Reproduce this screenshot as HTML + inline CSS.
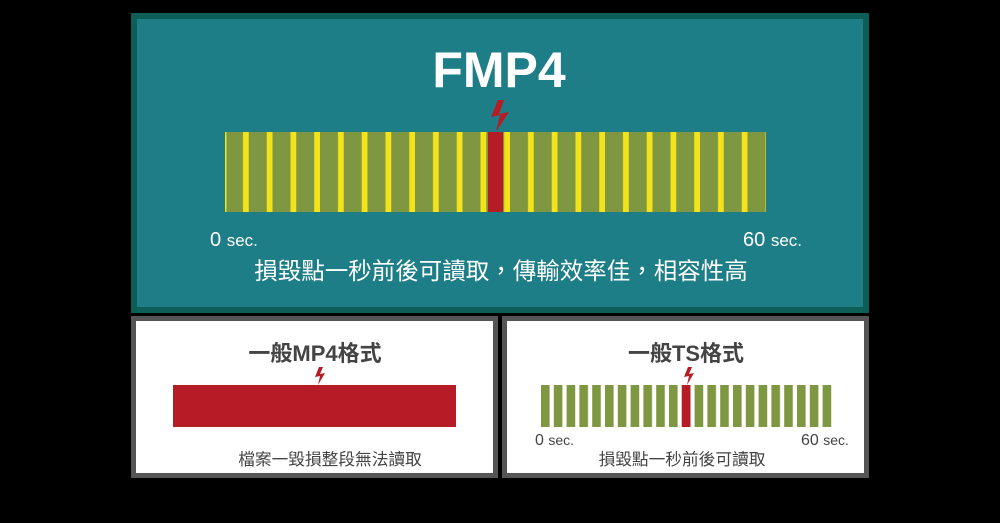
<!DOCTYPE html>
<html><head><meta charset="utf-8"><style>
body{margin:0;background:#000;width:1000px;height:523px;overflow:hidden;font-family:"Liberation Sans","Noto Sans CJK TC",sans-serif}
</style></head><body>
<svg width="1000" height="523" xmlns="http://www.w3.org/2000/svg" style="position:absolute;left:0;top:0">
<defs>
<pattern id="yp" x="225" y="0" width="23.75" height="100" patternUnits="userSpaceOnUse">
<rect x="0" y="0" width="23.75" height="100" fill="#7f9740"/>
<rect x="18" y="0" width="8" height="100" fill="#f2e31b"/>
</pattern>
<pattern id="gp" x="541" y="0" width="12.8" height="100" patternUnits="userSpaceOnUse">
<rect x="0" y="0" width="8.6" height="100" fill="#7f9740"/>
</pattern>
</defs>
<rect width="1000" height="523" fill="#000"/>
<rect x="131" y="13" width="738" height="300" fill="#0e5e58"/>
<rect x="137" y="19" width="726" height="288" fill="#1e7e87"/>
<text x="499" y="87" text-anchor="middle" font-size="50" font-weight="bold" fill="#fff" font-family="Liberation Sans,sans-serif">FMP4</text>
<rect x="225" y="132" width="541" height="80" fill="url(#yp)"/>
<rect x="225" y="132" width="1.5" height="80" fill="#f2e31b"/>
<rect x="488" y="132" width="15" height="80" fill="#b51c26"/>
<polygon points="498,100 491,117 500,115 496,132 509,112 499,114 504,100" fill="#b51c26"/>
<text x="210" y="246" font-size="20" fill="#fff">0 <tspan font-size="17">sec.</tspan></text>
<text x="743" y="246" font-size="20" fill="#fff">60 <tspan font-size="17">sec.</tspan></text>
<text x="501" y="279" text-anchor="middle" font-size="23.5" fill="#fff" font-family="Liberation Sans,Noto Sans CJK TC,sans-serif">損毀點一秒前後可讀取，傳輸效率佳，相容性高</text>
<rect x="131" y="316" width="367" height="162" fill="#555"/>
<rect x="136" y="321" width="357" height="152" fill="#fff"/>
<text x="315" y="361" text-anchor="middle" font-size="22" font-weight="bold" fill="#444" font-family="Liberation Sans,Noto Sans CJK TC,sans-serif">一般MP4格式</text>
<rect x="173" y="385" width="283" height="42" fill="#b51c26"/>
<polygon points="319,367 315,377 320,376 318,385 325,373 320,374 323,367" fill="#b51c26"/>
<text x="330" y="465" text-anchor="middle" font-size="16.7" fill="#444" font-family="Liberation Sans,Noto Sans CJK TC,sans-serif">檔案一毀損整段無法讀取</text>
<rect x="502" y="316" width="367" height="162" fill="#555"/>
<rect x="507" y="321" width="357" height="152" fill="#fff"/>
<text x="686" y="361" text-anchor="middle" font-size="22" font-weight="bold" fill="#444" font-family="Liberation Sans,Noto Sans CJK TC,sans-serif">一般TS格式</text>
<rect x="541" y="385" width="291" height="42" fill="url(#gp)"/>
<rect x="681.8" y="385" width="8.6" height="42" fill="#b51c26"/>
<polygon points="688,367 684,377 689,376 687,385 694,373 689,374 692,367" fill="#b51c26"/>
<text x="535" y="445" font-size="16" fill="#444">0 <tspan font-size="14">sec.</tspan></text>
<text x="801" y="445" font-size="16" fill="#444">60 <tspan font-size="14">sec.</tspan></text>
<text x="682" y="465" text-anchor="middle" font-size="16.7" fill="#444" font-family="Liberation Sans,Noto Sans CJK TC,sans-serif">損毀點一秒前後可讀取</text>
</svg>
</body></html>
